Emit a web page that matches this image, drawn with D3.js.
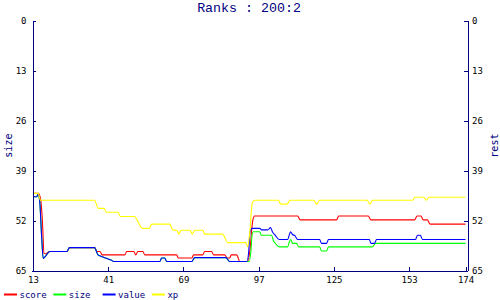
<!DOCTYPE html>
<html>
<head>
<meta charset="utf-8">
<script src="https://cdn.jsdelivr.net/npm/d3@7"></script>
<style>
  body { margin: 0; background: #fff; }
  svg { display: block; }
</style>
</head>
<body>
<div id="chart"></div>
<script>
// tick labels
var xTicks = [13, 41, 69, 97, 125, 153, 174];
var yTicks = [0, 13, 26, 39, 52, 65];

// series as [x, value] breakpoints
var score = [[13,44.9],[15,44.9],[15.9,46.7],[16.5,52],[17.1,60.5],[17.6,60.6],[19.2,60.0],[25.6,60.0],[26.6,59.0],[35.9,59.0],[36.8,60.0],[37.9,60.0],[38.8,60.9],[47.2,60.9],[47.9,60.0],[50.5,60.0],[51.3,60.9],[52.0,60.0],[53.9,60.0],[54.6,60.9],[66.5,60.9],[67.1,61.7],[72.1,61.7],[72.8,60.9],[76.2,60.9],[76.9,60.0],[79.5,60.0],[80.2,60.9],[84.4,60.9],[85.3,61.7],[86.2,61.7],[86.8,60.9],[88.8,60.9],[90.0,62.6],[92.9,62.6],[93.7,60],[94.8,52],[95.5,50.8],[111.5,50.8],[112.5,51.8],[126.0,51.8],[126.8,50.8],[137.8,50.8],[138.8,51.8],[155.0,51.8],[156.0,50.8],[157.4,50.8],[158.3,51.8],[159.8,51.8],[160.8,52.9],[174,52.9]];

var size = [[13,45.8],[14.4,45.8],[14.9,45.1],[15.5,47],[16.2,56],[16.8,61.8],[17.6,61.3],[19.2,60.0],[25.6,60.0],[26.6,59.0],[35.9,59.0],[37.2,60.9],[38.5,61.3],[40,61.7],[42,62.2],[43.1,62.6],[60.2,62.6],[60.9,61.7],[62.0,61.7],[62.8,62.6],[72.1,62.6],[73.2,61.6],[84.8,61.6],[86.2,62.6],[93.5,62.6],[94.1,60],[94.6,55.5],[95,54.9],[97.4,54.9],[98,55.8],[101.8,55.8],[102.5,57.2],[103.2,57.9],[104.8,58.8],[107.8,58.8],[108.3,57.8],[108.9,56.9],[109.7,57.9],[111.1,57.9],[111.9,58.8],[119.7,58.8],[120.4,59.9],[122.3,59.9],[123,58.8],[139.4,58.8],[140.5,57.9],[174,57.9]];

var value = [[13,45.8],[14.4,45.8],[14.9,45.1],[15.5,47],[16.2,56],[16.8,61.8],[17.6,61.3],[19.2,60.0],[25.6,60.0],[26.6,59.0],[35.9,59.0],[37.2,60.9],[38.5,61.3],[40,61.7],[42,62.2],[43.1,62.6],[60.2,62.6],[60.9,61.7],[62.0,61.7],[62.8,62.6],[72.1,62.6],[73.2,61.6],[84.8,61.6],[86.2,62.6],[92.6,62.6],[93.3,60],[93.8,54.9],[94.6,54.0],[97.4,54.0],[98.1,54.4],[100.4,54.4],[101.4,53.8],[102.2,55],[103.2,55.8],[104.6,56.9],[107.8,56.9],[108.5,55.5],[108.9,54.9],[109.6,55.6],[110.5,55.9],[111.5,56.9],[119.7,56.9],[120.4,57.9],[122.3,57.9],[123,56.9],[138.2,56.9],[138.8,57.9],[140.1,57.9],[140.9,56.9],[155.4,56.9],[156.1,55.8],[157.2,55.8],[158,56.9],[174,56.9]];

var xp = [[13,44.9],[14.9,44.9],[15.8,46.7],[35.9,46.7],[37.3,48.8],[39.5,48.8],[40.3,49.8],[44.6,49.8],[45.5,50.9],[50.9,50.9],[52,52.2],[53.1,53.6],[53.8,54.0],[56.3,54.0],[57.2,52.9],[63.9,52.9],[65,54.4],[66.5,54.5],[67.3,55.5],[68,54.5],[71.4,54.5],[72.3,55.5],[73.2,54.5],[76.2,54.5],[76.9,55.5],[83.6,55.5],[85.5,57.7],[92.2,57.7],[92.9,58.8],[93.7,55],[94.6,47.5],[95.5,46.7],[104.4,46.7],[105.2,47.7],[107.6,47.7],[108.6,46.7],[117.5,46.7],[118.6,47.7],[119.7,46.7],[137.4,46.7],[138.4,47.7],[139.4,46.7],[154.3,46.7],[155.1,45.9],[158.5,45.9],[159.4,46.7],[160.4,45.9],[174,45.9]];

var seriesNames = ["score", "size", "value", "xp"];
var seriesColors = ["#ff0000", "#00ff00", "#0000ff", "#ffff00"];
var seriesData = [score, size, value, xp];

var width = 500, height = 300;
var navy = "#000080";
var mono = "'DejaVu Sans Mono', 'Liberation Mono', monospace";

var svg = d3.select("#chart").append("svg")
    .attr("width", width)
    .attr("height", height);

var x = d3.scaleLinear().domain([13, 174]).range([33, 465.5]);
var y = d3.scaleLinear().domain([0, 65]).range([20.5, 270.7]);

// title
svg.append("text")
    .attr("x", 249)
    .attr("y", 12)
    .attr("text-anchor", "middle")
    .style("font-family", "'Liberation Mono', monospace")
    .style("font-size", "13.3px")
    .style("fill", navy)
    .text("Ranks : 200:2");

// lines
var line = d3.line()
    .x(function(d) { return x(d[0]); })
    .y(function(d) { return y(d[1]); })
    .curve(d3.curveMonotoneX);

seriesData.forEach(function(s, i) {
    svg.append("path")
        .datum(s)
        .attr("d", line)
        .attr("fill", "none")
        .attr("stroke", seriesColors[i])
        .attr("stroke-width", 1.1);
});

// axes
function styleAxis(g) {
    g.selectAll("path, line").attr("stroke", navy).attr("shape-rendering", "crispEdges");
    g.selectAll("text")
        .style("font-family", mono)
        .style("font-size", "9px")
        .attr("fill", "#000");
}

svg.append("g")
    .attr("transform", "translate(32.5,0)")
    .call(d3.axisLeft(y).tickValues(yTicks).tickSizeInner(-3).tickSizeOuter(0).tickPadding(6))
    .call(styleAxis);

svg.append("g")
    .attr("transform", "translate(467.5,0)")
    .call(d3.axisRight(y).tickValues(yTicks).tickSizeInner(-4).tickSizeOuter(0).tickPadding(4.5))
    .call(styleAxis);

var xAxis = svg.append("g")
    .attr("transform", "translate(0,270.7)")
    .call(d3.axisBottom(x).tickValues(xTicks).tickSizeInner(-4).tickSizeOuter(0).tickPadding(6))
    .call(styleAxis);
xAxis.select(".domain").remove();
svg.append("line")
    .attr("x1", 32).attr("x2", 468)
    .attr("y1", 271).attr("y2", 271)
    .attr("stroke", navy)
    .attr("shape-rendering", "crispEdges");

// axis titles
svg.append("text")
    .attr("transform", "translate(12,145.6) rotate(-90)")
    .attr("text-anchor", "middle")
    .style("font-family", mono)
    .style("font-size", "10px")
    .style("fill", navy)
    .text("size");

svg.append("text")
    .attr("transform", "translate(497.5,145.6) rotate(-90)")
    .attr("text-anchor", "middle")
    .style("font-family", mono)
    .style("font-size", "10px")
    .style("fill", navy)
    .text("rest");

// legend
var legend = svg.append("g").attr("transform", "translate(4,294.5)");
seriesNames.forEach(function(name, i) {
    var gx = i * 49.3;
    legend.append("line")
        .attr("x1", gx).attr("x2", gx + 13)
        .attr("y1", 0).attr("y2", 0)
        .attr("stroke", seriesColors[i])
        .attr("stroke-width", 2);
    legend.append("text")
        .attr("x", gx + 15.5)
        .attr("y", 3)
        .style("font-family", mono)
        .style("font-size", "9px")
        .style("fill", navy)
        .text(name);
});
</script>
</body>
</html>
